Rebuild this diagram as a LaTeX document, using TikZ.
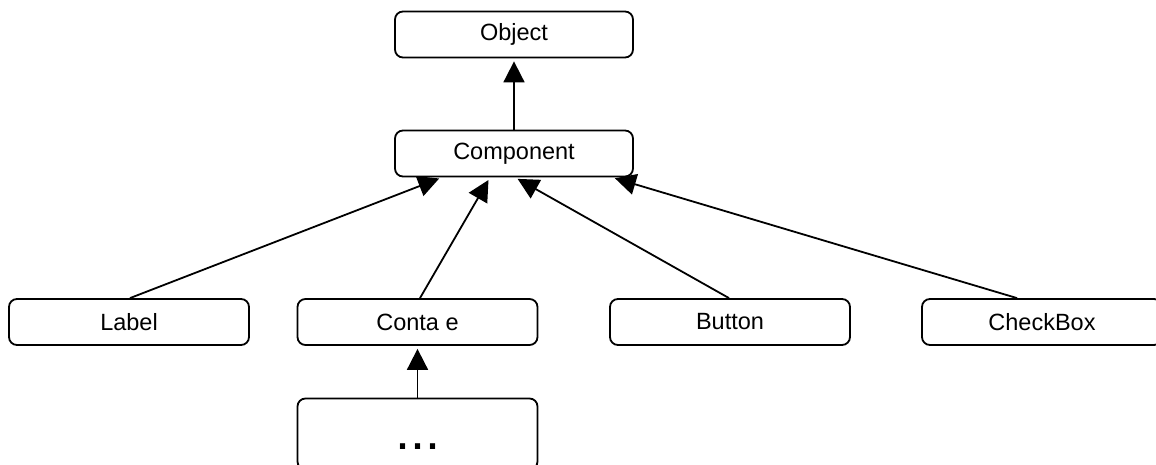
\documentclass[tikz,border=0pt]{standalone}
\usepackage{fontspec}
\setmainfont{Liberation Sans}
\usetikzlibrary{arrows.meta,positioning}

\begin{document}
\begin{tikzpicture}[x=1pt,y=1pt,->,>={Triangle[length=21pt,width=21pt]},shorten >=3pt,line width=1.8pt]
  \tikzstyle{every node}=[font=\fontsize{23.5}{28}\selectfont]
  \tikzstyle{class}=[draw,-,rounded corners=8pt,minimum width=240pt,minimum height=46pt,inner sep=0pt]
  \useasboundingbox (0,0) rectangle (1156,465);

  \node[class,minimum width=238pt] (O)  at (514,430.5) {Object};
  \node[class,minimum width=238pt] (C)  at (514,311.5) {Component};
  \node[class]                     (L)  at (129,143)   {Label};
  \node[class]                     (CT) at (417.5,143) {Conta e};
  \node[class]                     (B)  at (730,143)   {Button};
  \node[class]                     (CB) at (1042,143)  {CheckBox};
  \node[class,minimum height=71pt,text height=31pt,text depth=0pt,font=\fontsize{54}{60}\selectfont] (D) at (417.5,31) {...};

  \path (C) edge (O);
  \path ([xshift=1pt]L.north)     edge ([xshift=-72pt]C.south);
  \path ([xshift=2.5pt]CT.north)  edge ([xshift=-24pt]C.south);
  \path ([xshift=-1pt]B.north)    edge ([xshift=1pt]C.south);
  \path ([xshift=-25pt]CB.north)  edge ([xshift=98pt]C.south);
  \path (D) edge (CT);
\end{tikzpicture}
\end{document}
